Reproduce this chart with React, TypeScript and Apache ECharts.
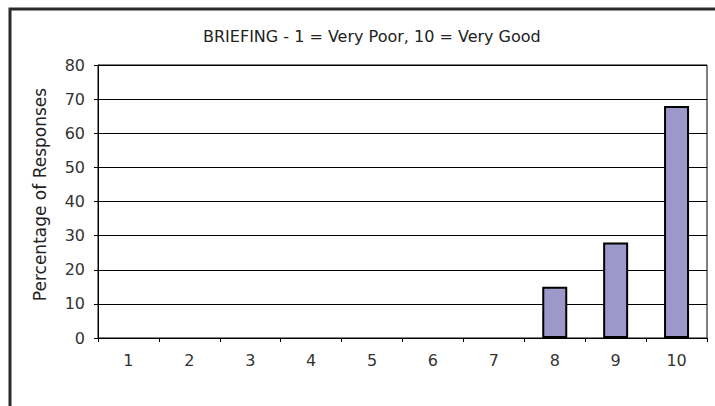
import React, { useEffect, useRef } from "react";
import * as echarts from "echarts";

const categories = ["1", "2", "3", "4", "5", "6", "7", "8", "9", "10"];
const responses = [0, 0, 0, 0, 0, 0, 0, 15, 28, 68];
const titleText = "BRIEFING - 1 = Very Poor, 10 = Very Good";
const yAxisName = "Percentage of Responses";

const FONT = "DejaVu Sans, sans-serif";

export default function App() {
  const ref = useRef<HTMLDivElement>(null);
  useEffect(() => {
    document.body.style.margin = "0";
    const chart = echarts.init(ref.current!, null, { renderer: "svg" });
    chart.setOption({
      animation: false,
      backgroundColor: "#ffffff",
      textStyle: { fontFamily: FONT },
      title: {
        text: titleText,
        left: 203,
        top: 28,
        padding: 0,
        textStyle: { fontFamily: FONT, fontSize: 16, fontWeight: "normal", color: "#222" },
      },
      graphic: [
        {
          type: "rect",
          shape: { x: 10, y: 9, width: 760, height: 460 },
          style: { fill: "none", stroke: "#2a2a2a", lineWidth: 3 },
          silent: true,
        },
      ],
      grid: {
        left: 98,
        right: 8,
        top: 65,
        bottom: 68,
        show: true,
        borderColor: "#000",
        borderWidth: 1,
        backgroundColor: "transparent",
      },
      xAxis: {
        type: "category",
        data: categories,
        boundaryGap: true,
        axisLine: { lineStyle: { color: "#000", width: 1 } },
        axisTick: { show: true, length: 4, alignWithLabel: false, lineStyle: { color: "#000" } },
        axisLabel: { color: "#333", fontSize: 16, margin: 14, fontFamily: FONT },
        splitLine: { show: false },
      },
      yAxis: {
        type: "value",
        min: 0,
        max: 80,
        interval: 10,
        name: yAxisName,
        nameLocation: "middle",
        nameGap: 50,
        nameRotate: 90,
        nameTextStyle: { color: "#222", fontSize: 17, fontFamily: FONT, padding: [0, 0, 0, 14] },
        axisLine: { show: true, lineStyle: { color: "#000", width: 1 } },
        axisTick: { show: true, length: 4, lineStyle: { color: "#000" } },
        axisLabel: { color: "#333", fontSize: 16, margin: 13, fontFamily: FONT },
        splitLine: { show: true, lineStyle: { color: "#000", width: 1 } },
      },
      series: [
        {
          type: "bar",
          data: responses.map((v) => (v === 0 ? { value: v, itemStyle: { borderWidth: 0 } } : v)),
          barWidth: 25,
          itemStyle: { color: "#9c98c9", borderColor: "#000", borderWidth: 2 },
        },
      ],
    });
    return () => chart.dispose();
  }, []);
  return <div ref={ref} style={{ position: "absolute", left: 0, top: 0, width: 715, height: 406 }} />;
}
